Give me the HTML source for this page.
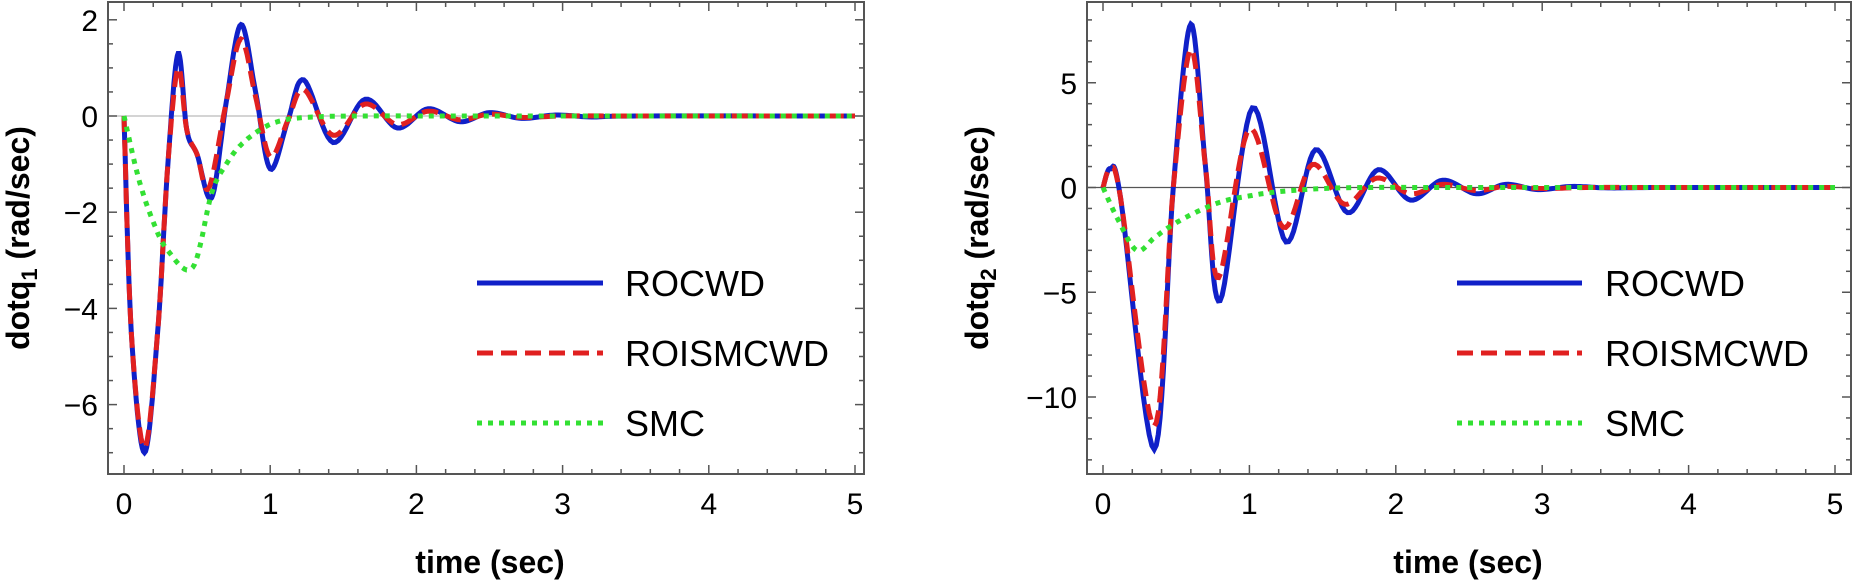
<!DOCTYPE html>
<html><head><meta charset="utf-8"><style>
html,body{margin:0;padding:0;background:#fff;}
svg{display:block;font-family:"Liberation Sans",sans-serif;}
</style></head><body>
<svg id="s" width="1856" height="582" viewBox="0 0 1856 582" xmlns="http://www.w3.org/2000/svg">
<rect width="1856" height="582" fill="#fff"/>
<g id="g"></g>
<text x="490" y="573" font-size="32" font-weight="bold" text-anchor="middle">time (sec)</text>
<text x="1468" y="573" font-size="32" font-weight="bold" text-anchor="middle">time (sec)</text>
<text transform="translate(29,238) rotate(-90)" font-size="32" font-weight="bold" text-anchor="middle">dotq<tspan font-size="22" dy="8">1</tspan><tspan dy="-8"> (rad/sec)</tspan></text>
<text transform="translate(988,238) rotate(-90)" font-size="32" font-weight="bold" text-anchor="middle">dotq<tspan font-size="22" dy="8">2</tspan><tspan dy="-8"> (rad/sec)</tspan></text>
</svg>
<script>
var NS="http://www.w3.org/2000/svg",G=document.getElementById("g");
function el(n,a,t){var e=document.createElementNS(NS,n);for(var k in a)e.setAttribute(k,a[k]);if(t!==undefined)e.textContent=t;G.appendChild(e);return e;}
function cr(pts){var d="M"+pts[0][0].toFixed(1)+","+pts[0][1].toFixed(1);
for(var i=0;i<pts.length-1;i++){var p0=pts[Math.max(i-1,0)],p1=pts[i],p2=pts[i+1],p3=pts[Math.min(i+2,pts.length-1)];
for(var s=1;s<=12;s++){var t=s/12,t2=t*t,t3=t2*t;
var x=0.5*((2*p1[0])+(-p0[0]+p2[0])*t+(2*p0[0]-5*p1[0]+4*p2[0]-p3[0])*t2+(-p0[0]+3*p1[0]-3*p2[0]+p3[0])*t3);
var y=0.5*((2*p1[1])+(-p0[1]+p2[1])*t+(2*p0[1]-5*p1[1]+4*p2[1]-p3[1])*t2+(-p0[1]+3*p1[1]-3*p2[1]+p3[1])*t3);
d+=" L"+x.toFixed(1)+","+y.toFixed(1);}}return d;}
function plot(P){
 var X=function(t){return P.x0+P.xs*t},Y=function(v){return P.y0-P.ys*v};
 // zero line
 el("line",{x1:P.L,x2:P.R,y1:Y(0),y2:Y(0),stroke:P.zc,"stroke-width":1.2});
 function ser(pts,st){var q=pts.map(function(p){return[X(p[0]),Y(p[1])]});q.push([X(5),Y(0)]);var a={d:cr(q),fill:"none"};for(var k in st)a[k]=st[k];el("path",a);}
 ser(P.blue,{stroke:"#1020c8","stroke-width":5});
 ser(P.red,{stroke:"#e02020","stroke-width":5,"stroke-dasharray":"16,8"});
 ser(P.green,{stroke:"#33e033","stroke-width":5,"stroke-dasharray":"5,6"});
 // frame
 el("rect",{x:P.L,y:P.T,width:P.R-P.L,height:P.B-P.T,fill:"none",stroke:"#555","stroke-width":2});
 for(var i=0;i<=25;i++){var t=i*0.2,x=X(t);if(x>P.R)break;var l=(i%5==0)?9:5;
  el("line",{x1:x,x2:x,y1:P.B,y2:P.B-l,stroke:"#555","stroke-width":1.5});
  el("line",{x1:x,x2:x,y1:P.T,y2:P.T+l,stroke:"#555","stroke-width":1.5});
  if(i%5==0)el("text",{x:x,y:P.B+40,"font-size":30,"text-anchor":"middle"},String(i/5));}
 for(var v=P.ymin;v<=P.ymax+1e-9;v+=P.minor){var y=Y(v);if(y<P.T||y>P.B)continue;var maj=Math.abs(v/P.major-Math.round(v/P.major))<1e-6;var l=maj?9:5;
  el("line",{x1:P.L,x2:P.L+l,y1:y,y2:y,stroke:"#555","stroke-width":1.5});
  el("line",{x1:P.R,x2:P.R-l,y1:y,y2:y,stroke:"#555","stroke-width":1.5});
  if(maj)el("text",{x:P.L-10,y:y+11,"font-size":30,"text-anchor":"end"},(v<0?"\u2212":"")+Math.abs(Math.round(v)));}
 // legend
 var ly=[283,353,423],nm=["ROCWD","ROISMCWD","SMC"];
 el("line",{x1:P.lx1,x2:P.lx2,y1:ly[0],y2:ly[0],stroke:"#1020c8","stroke-width":5});
 el("line",{x1:P.lx1,x2:P.lx2,y1:ly[1],y2:ly[1],stroke:"#e02020","stroke-width":5,"stroke-dasharray":"16,8"});
 el("line",{x1:P.lx1,x2:P.lx2,y1:ly[2],y2:ly[2],stroke:"#33e033","stroke-width":5,"stroke-dasharray":"5,6"});
 for(var j=0;j<3;j++)el("text",{x:P.tx,y:ly[j]+13,"font-size":36},nm[j]);
}
plot({L:108,R:864,T:2,B:474,x0:124,xs:146.2,y0:116,ys:48.1,ymin:-7.5,ymax:2.5,minor:0.5,major:2,zc:"#bbb",lx1:477,lx2:603,tx:625,
 blue:[[0,0],[0.05,-4.5],[0.14,-7],[0.23,-4.5],[0.3,-1],[0.37,1.3],[0.43,-0.3],[0.5,-0.8],[0.6,-1.7],[0.7,0.3],[0.8,1.9],[0.9,0.5],[1.0,-1.1],[1.12,-0.1],[1.23,0.75],[1.43,-0.55],[1.65,0.35],[1.87,-0.25],[2.08,0.15],[2.3,-0.12],[2.5,0.07],[2.72,-0.05],[2.95,0.02],[3.2,-0.02],[3.5,0]],
 red:[[0,0],[0.05,-4.5],[0.14,-6.9],[0.23,-4.5],[0.3,-1],[0.37,1.0],[0.43,-0.3],[0.5,-0.8],[0.58,-1.5],[0.7,0.3],[0.8,1.6],[0.9,0.4],[1.0,-0.85],[1.12,-0.1],[1.23,0.55],[1.43,-0.4],[1.65,0.25],[1.87,-0.18],[2.08,0.1],[2.3,-0.08],[2.5,0.04],[2.72,-0.03],[3.0,0],[3.5,0]],
 green:[[0,0],[0.1,-1.3],[0.2,-2.2],[0.3,-2.8],[0.47,-3.15],[0.6,-1.6],[0.7,-1.0],[0.8,-0.6],[0.95,-0.25],[1.1,-0.08],[1.3,-0.02],[1.6,0],[2.5,0]]});
plot({L:1087,R:1851,T:2,B:474,x0:1103,xs:146.4,y0:187.5,ys:20.95,ymin:-13,ymax:9,minor:1,major:5,zc:"#555",lx1:1457,lx2:1582,tx:1605,
 blue:[[0,0],[0.05,0.9],[0.12,-0.5],[0.35,-12.5],[0.48,0],[0.6,7.8],[0.7,1],[0.8,-5.4],[1.02,3.8],[1.25,-2.6],[1.45,1.8],[1.67,-1.2],[1.88,0.85],[2.1,-0.6],[2.32,0.35],[2.55,-0.3],[2.75,0.15],[2.97,-0.1],[3.2,0.05],[3.45,-0.02],[3.8,0]],
 red:[[0,0],[0.05,0.9],[0.12,-0.5],[0.35,-11.4],[0.48,0],[0.6,6.6],[0.7,1],[0.79,-4.3],[1.0,2.8],[1.23,-1.9],[1.43,1.1],[1.65,-0.8],[1.87,0.45],[2.1,-0.3],[2.32,0.15],[2.55,-0.15],[2.75,0.05],[3.0,-0.05],[3.3,0],[3.8,0]],
 green:[[0,0],[0.1,-1.5],[0.23,-3],[0.35,-2.4],[0.45,-1.9],[0.6,-1.3],[0.8,-0.7],[1.0,-0.4],[1.2,-0.2],[1.5,-0.05],[1.8,0],[2.5,0]]});
</script>
</body></html>
